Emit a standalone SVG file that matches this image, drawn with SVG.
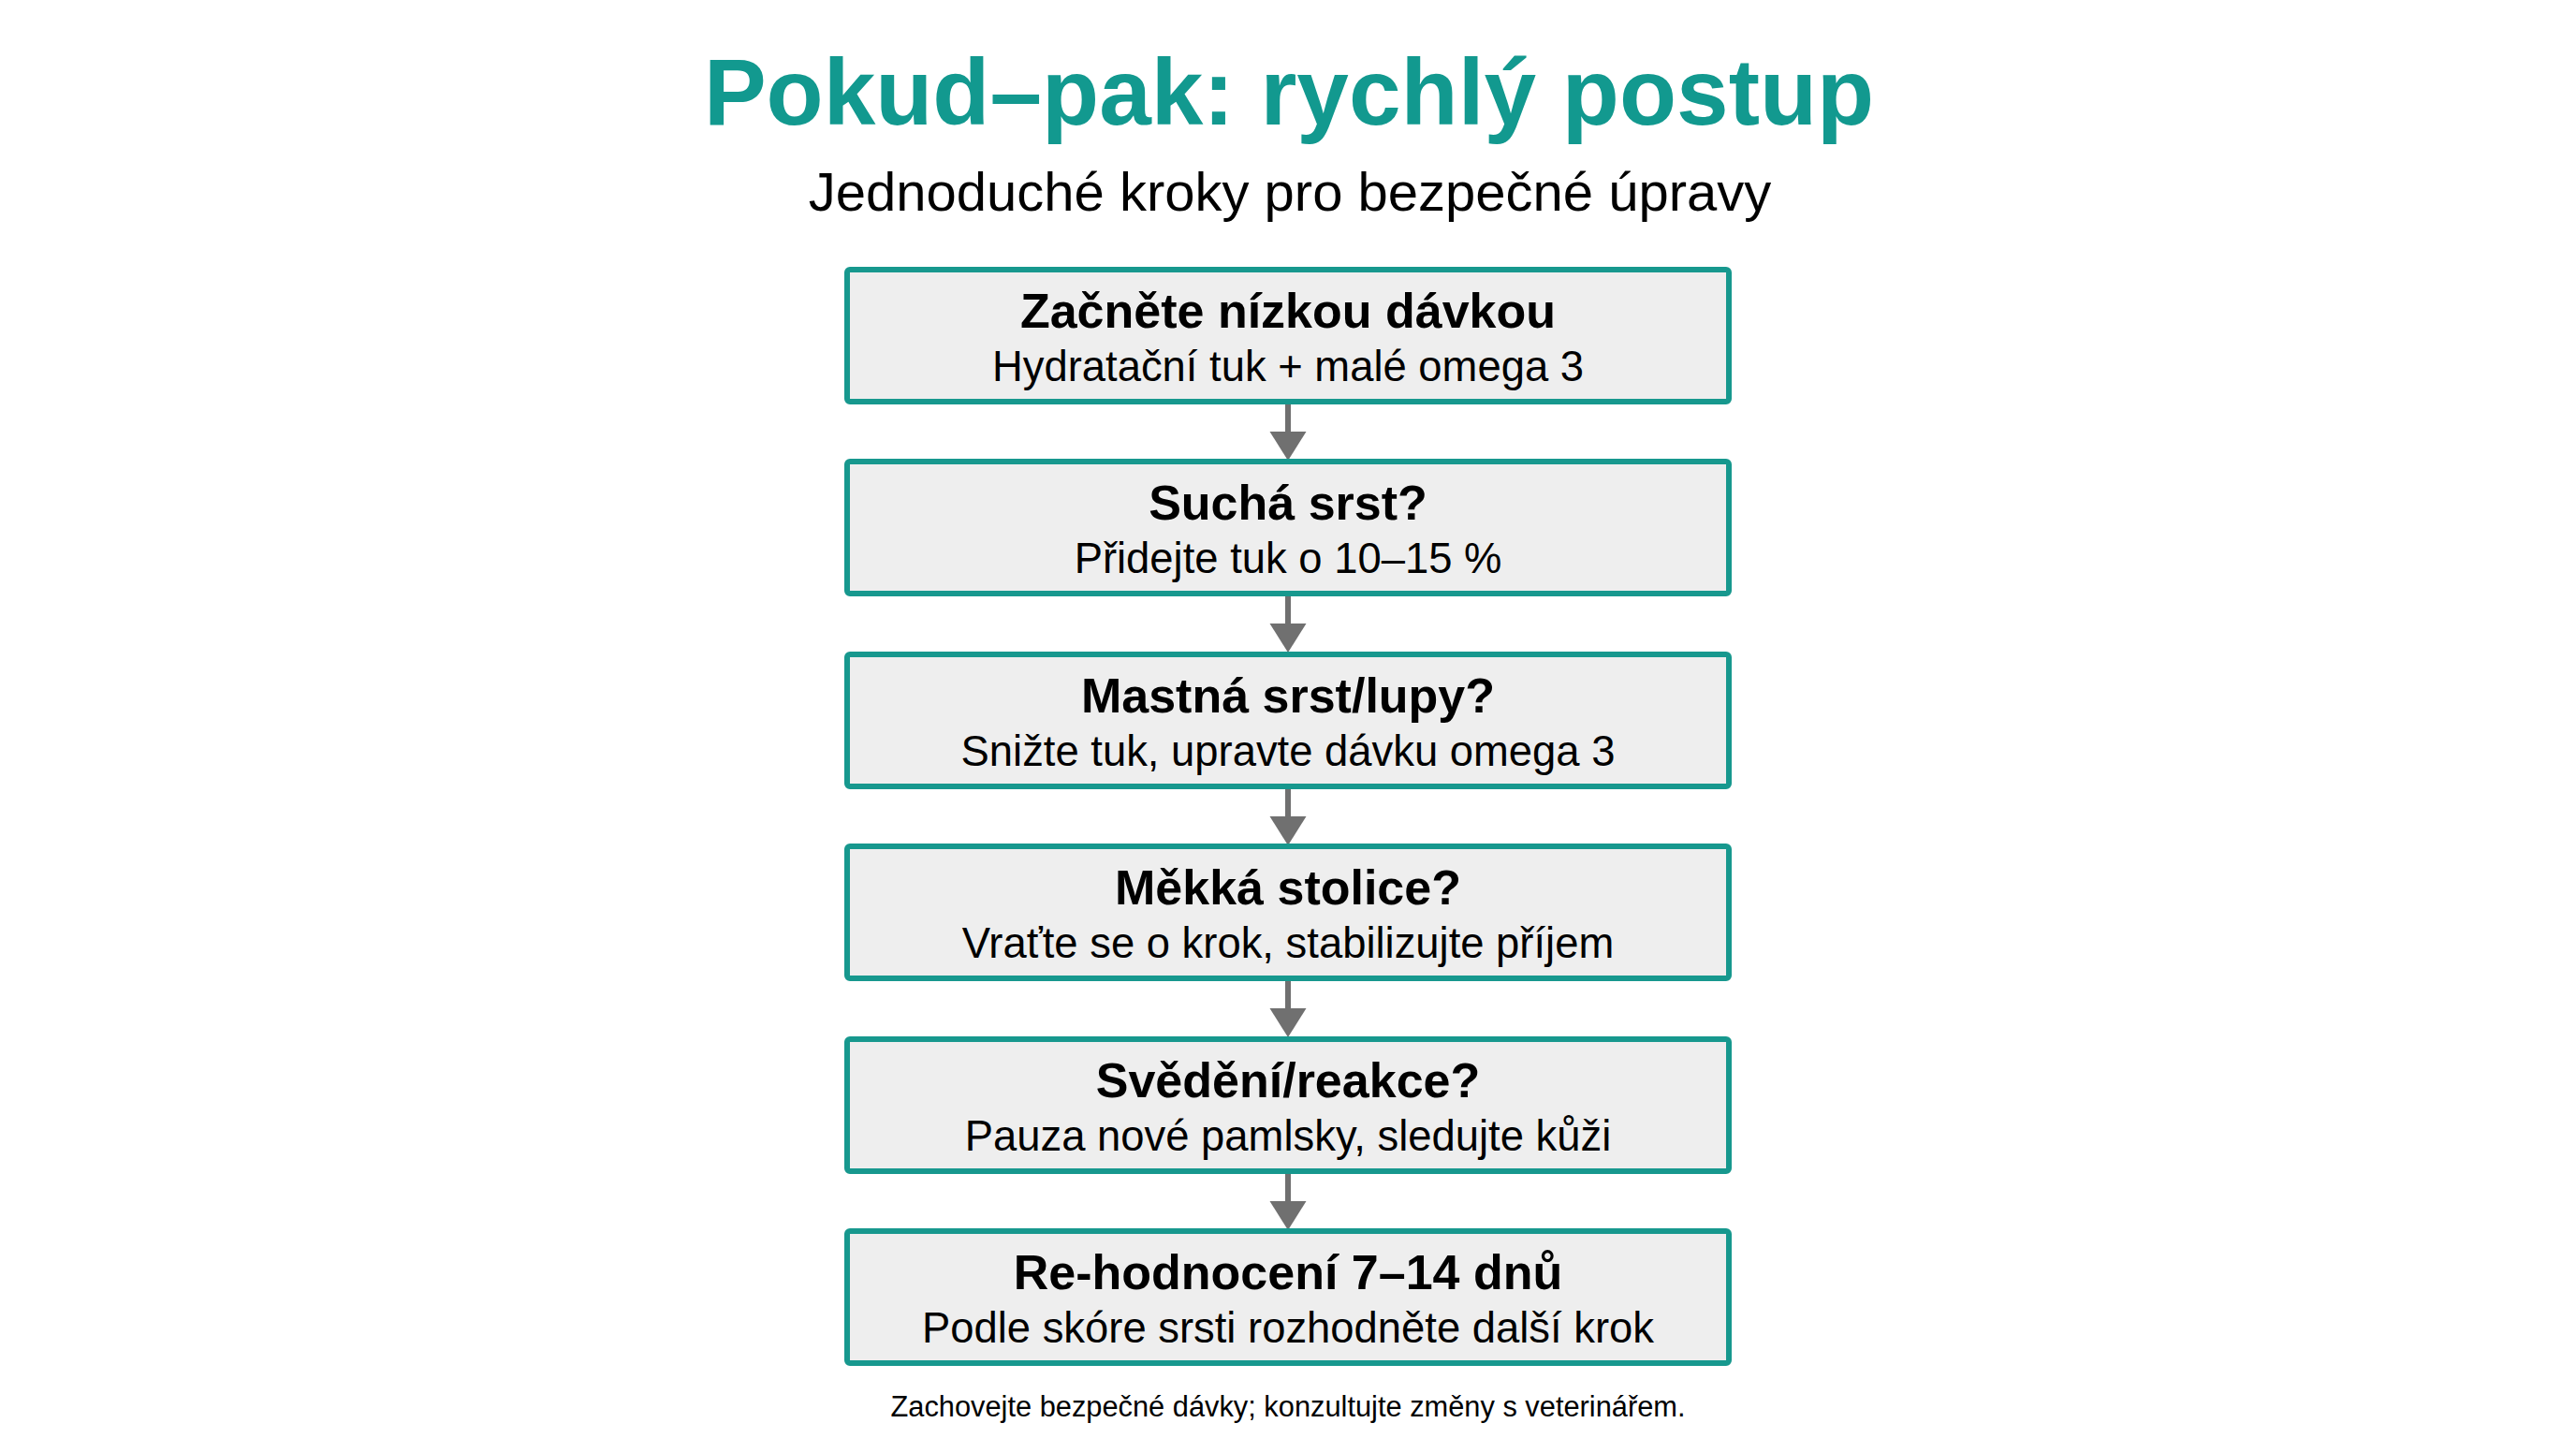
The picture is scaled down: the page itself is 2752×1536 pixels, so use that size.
<svg xmlns="http://www.w3.org/2000/svg" width="2752" height="1536" viewBox="0 0 2752 1536">
  <defs>
    <style>
      .title { font-family: "Liberation Sans", Arial, sans-serif; font-weight: bold; font-size: 100px; fill: #12998f; text-anchor: middle; }
      .subtitle { font-family: "Liberation Sans", Arial, sans-serif; font-size: 58px; fill: #000000; text-anchor: middle; }
      .box { fill: #eeeeee; stroke: #17988e; stroke-width: 6; }
      .head { font-family: "Liberation Sans", Arial, sans-serif; font-weight: bold; font-size: 52px; fill: #000000; text-anchor: middle; }
      .body { font-family: "Liberation Sans", Arial, sans-serif; font-size: 45.4px; fill: #000000; text-anchor: middle; }
      .foot { font-family: "Liberation Sans", Arial, sans-serif; font-size: 30.8px; fill: #000000; text-anchor: middle; }
      .conn { stroke: #707070; stroke-width: 6; fill: none; }
      .head-arrow { fill: #707070; }
    </style>
  </defs>
  <rect x="0" y="0" width="2752" height="1536" fill="#ffffff"/>

  <text class="title" x="1377" y="133">Pokud–pak: rychlý postup</text>
  <text class="subtitle" x="1378" y="225">Jednoduché kroky pro bezpečné úpravy</text>

  <g id="connectors">
    <line class="conn" x1="1376" y1="432" x2="1376" y2="463"/>
    <path class="head-arrow" d="M1356.5,461 L1395.5,461 L1376,492 Z"/>
    <line class="conn" x1="1376" y1="637" x2="1376" y2="668"/>
    <path class="head-arrow" d="M1356.5,666 L1395.5,666 L1376,697 Z"/>
    <line class="conn" x1="1376" y1="843" x2="1376" y2="874"/>
    <path class="head-arrow" d="M1356.5,872 L1395.5,872 L1376,903 Z"/>
    <line class="conn" x1="1376" y1="1048" x2="1376" y2="1079"/>
    <path class="head-arrow" d="M1356.5,1077 L1395.5,1077 L1376,1108 Z"/>
    <line class="conn" x1="1376" y1="1254" x2="1376" y2="1285"/>
    <path class="head-arrow" d="M1356.5,1283 L1395.5,1283 L1376,1314 Z"/>
  </g>

  <g id="node1">
    <rect class="box" x="905" y="288" width="942" height="141" rx="3"/>
    <text class="head" x="1376" y="350">Začněte nízkou dávkou</text>
    <text class="body" x="1376" y="407">Hydratační tuk + malé omega 3</text>
  </g>
  <g id="node2">
    <rect class="box" x="905" y="493" width="942" height="141" rx="3"/>
    <text class="head" x="1376" y="555">Suchá srst?</text>
    <text class="body" x="1376" y="612">Přidejte tuk o 10–15 %</text>
  </g>
  <g id="node3">
    <rect class="box" x="905" y="699" width="942" height="141" rx="3"/>
    <text class="head" x="1376" y="761">Mastná srst/lupy?</text>
    <text class="body" x="1376" y="818">Snižte tuk, upravte dávku omega 3</text>
  </g>
  <g id="node4">
    <rect class="box" x="905" y="904" width="942" height="141" rx="3"/>
    <text class="head" x="1376" y="966">Měkká stolice?</text>
    <text class="body" x="1376" y="1023">Vraťte se o krok, stabilizujte příjem</text>
  </g>
  <g id="node5">
    <rect class="box" x="905" y="1110" width="942" height="141" rx="3"/>
    <text class="head" x="1376" y="1172">Svědění/reakce?</text>
    <text class="body" x="1376" y="1229">Pauza nové pamlsky, sledujte kůži</text>
  </g>
  <g id="node6">
    <rect class="box" x="905" y="1315" width="942" height="141" rx="3"/>
    <text class="head" x="1376" y="1377">Re-hodnocení 7–14 dnů</text>
    <text class="body" x="1376" y="1434">Podle skóre srsti rozhodněte další krok</text>
  </g>

  <text class="foot" x="1376" y="1513">Zachovejte bezpečné dávky; konzultujte změny s veterinářem.</text>
</svg>
